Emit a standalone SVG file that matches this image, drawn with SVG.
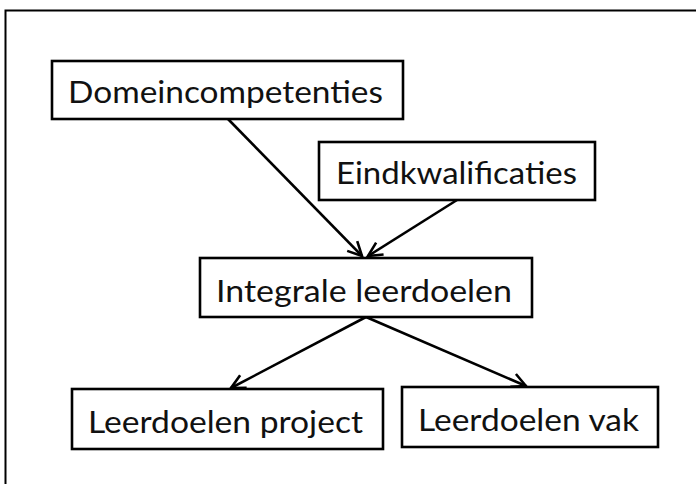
<svg xmlns="http://www.w3.org/2000/svg" width="696" height="484" viewBox="0 0 696 484">
<style>
.box{fill:#fff;stroke:#000;stroke-width:2.6}
.lbl{font-family:Lato,"Open Sans","Liberation Sans",sans-serif;font-size:30px;fill:#111}
.con{stroke:#000;stroke-width:2.6;fill:none;marker-end:url(#arr)}
</style>
<defs>
<marker id="arr" viewBox="0 0 20 20" refX="17" refY="10" markerWidth="20" markerHeight="20" markerUnits="userSpaceOnUse" orient="auto">
<polyline points="3,3 17,10 3,17" fill="none" stroke="#000" stroke-width="2.6"/>
</marker>
</defs>
<rect x="5.5" y="10.5" width="700" height="490" fill="#fff" stroke="#000" stroke-width="2"/>
<g id="connectors">
<line class="con" x1="228" y1="119" x2="362" y2="256"/>
<line class="con" x1="457" y1="200" x2="368" y2="256"/>
<line class="con" x1="366" y1="317" x2="231" y2="388"/>
<line class="con" x1="366" y1="317" x2="526" y2="386"/>
</g>
<g id="domeincompetenties">
<rect class="box" x="52" y="61" width="351" height="58"/>
<text class="lbl" x="68" y="103" textLength="315" lengthAdjust="spacingAndGlyphs">Domeincompetenties</text>
</g>
<g id="eindkwalificaties">
<rect class="box" x="319" y="142" width="276" height="58"/>
<text class="lbl" x="336" y="184" textLength="241" lengthAdjust="spacingAndGlyphs">Eindkwalificaties</text>
</g>
<g id="integrale">
<rect class="box" x="200" y="258" width="332" height="59"/>
<text class="lbl" x="216" y="302" textLength="296" lengthAdjust="spacingAndGlyphs">Integrale leerdoelen</text>
</g>
<g id="project">
<rect class="box" x="72" y="389" width="311" height="60"/>
<text class="lbl" x="88" y="433" textLength="275" lengthAdjust="spacingAndGlyphs">Leerdoelen project</text>
</g>
<g id="vak">
<rect class="box" x="402" y="387" width="256" height="60"/>
<text class="lbl" x="418" y="431" textLength="221" lengthAdjust="spacingAndGlyphs">Leerdoelen vak</text>
</g>
</svg>
